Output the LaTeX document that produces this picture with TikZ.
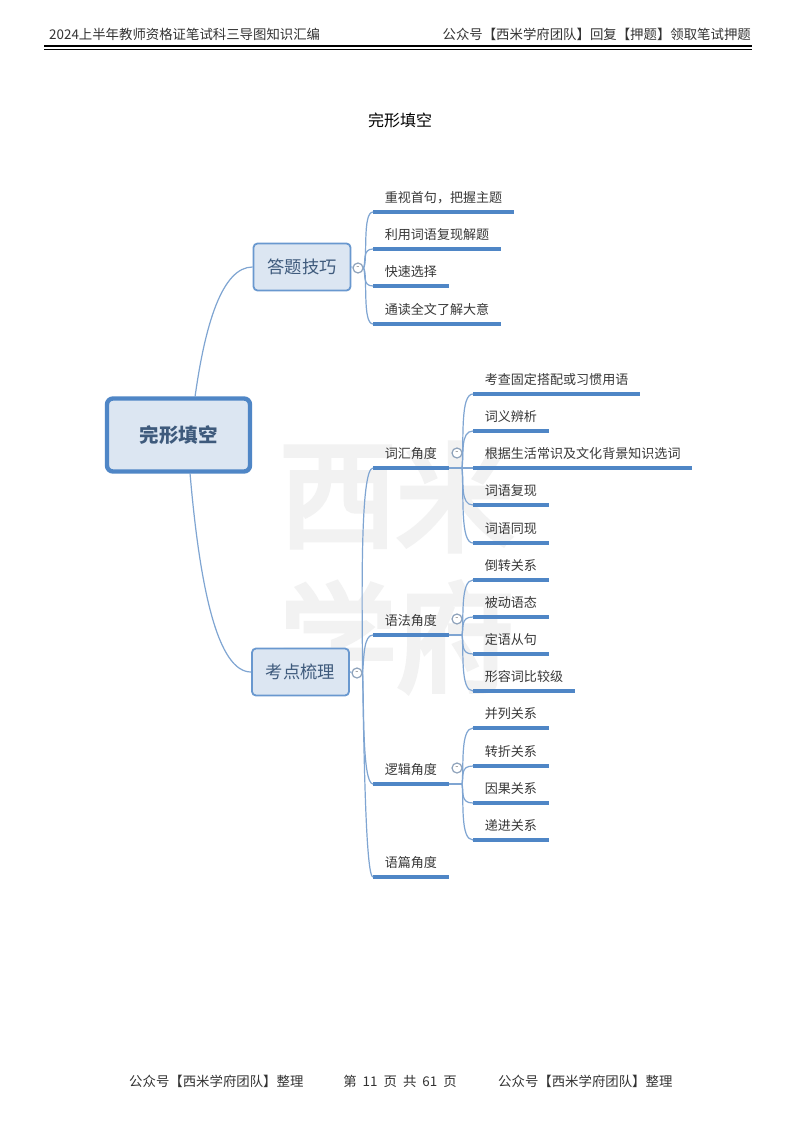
\documentclass[tikz,border=0pt]{standalone}
\usepackage{fontspec}
\setmainfont{Noto Sans CJK SC}
\newfontfamily\markfont[FakeBold=4]{Noto Sans CJK SC}
\usetikzlibrary{calc,positioning}
\definecolor{mapblue}{HTML}{4F86C6}
\definecolor{tieblue}{HTML}{7FA5D2}
\definecolor{mapfill}{HTML}{DCE6F2}
\definecolor{mapink}{HTML}{3E5A7C}
\definecolor{markgray}{HTML}{F2F2F2}
\tikzset{
  pagetext/.style={inner sep=0pt,font=\fontsize{13.4}{14}\selectfont,text=black!80},
  rootbox/.style={draw=mapblue,line width=4.4pt,fill=mapfill,rounded corners=6pt,
    minimum width=143pt,minimum height=73pt,inner sep=0pt,text=mapink,
    font=\fontsize{19.5}{20}\bfseries\selectfont},
  branchbox/.style={draw=mapblue!85,line width=1.8pt,fill=mapfill,rounded corners=4pt,
    minimum width=97pt,minimum height=47pt,inner sep=0pt,text=mapink,
    font=\fontsize{17.3}{18}\selectfont},
  topic/.style={anchor=south west,inner xsep=11.6pt,inner ysep=0pt,text height=12pt,text depth=9pt,
    text=black!78,font=\fontsize{13.05}{14}\selectfont,
    append after command={(\tikzlastnode.south west) edge[uline] (\tikzlastnode.south east)}},
  uline/.style={draw=mapblue,line width=3.4pt},
  tie/.style={draw=tieblue,line width=1.2pt},
  fold/.style={circle,draw=black!25!tieblue!70,fill=white,line width=1.2pt,minimum size=10pt,inner sep=0pt,
    text=black!55,font=\fontsize{9}{9}\selectfont},
  markchar/.style={inner sep=0pt,text=markgray,font=\fontsize{118}{118}\markfont}
}
\begin{document}
\begin{tikzpicture}[x=1pt,y=-1pt]
\useasboundingbox (0,0) rectangle (800,1131);
\fill[white] (0,0) rectangle (800,1131);

% watermark
\node[markchar] (markxi) at (338,497) {西};
\node[markchar] (markmi) at (455,497) {米};
\node[markchar] (markxue) at (338,637) {学};
\node[markchar] (markfu) at (455,637) {府};

% page head and foot
\node[pagetext,anchor=base west] (headleft) at (49,40) {2024上半年教师资格证笔试科三导图知识汇编};
\node[pagetext,anchor=base east] (headright) at (751,40) {公众号【西米学府团队】回复【押题】领取笔试押题};
\coordinate (rulea) at (44,46);
\coordinate (ruleb) at (752,46);
\coordinate (rulec) at (44,49.5);
\coordinate (ruled) at (752,49.5);
\draw[line width=2.8pt] (rulea) -- (ruleb);
\draw[line width=1pt] (rulec) -- (ruled);
\node[inner sep=0pt,font=\fontsize{16}{17}\selectfont] (title) at (400,120) {完形填空};
\node[pagetext,anchor=base west] (footleft) at (129,1086) {公众号【西米学府团队】整理};
\node[pagetext,anchor=base] (footmid) at (400,1086) {第\hspace*{6pt}11\hspace*{6pt}页\hspace*{6pt}共\hspace*{6pt}61\hspace*{6pt}页};
\node[pagetext,anchor=base west] (footright) at (498,1086) {公众号【西米学府团队】整理};

% the map
\node[rootbox] (root) at (178.5,435) {完形填空};
\node[branchbox] (skill) at (302,267) {答题技巧};
\node[branchbox] (point) at (300.5,672) {考点梳理};
\coordinate (roottop) at (195,397);
\coordinate (rootbot) at (190,473);
\draw[tie] (roottop) .. controls (205,325) and (222,267) .. (skill.west);
\draw[tie] (rootbot) .. controls (200,590) and (218,672) .. (point.west);

\node[fold] (skillfold) at (358,268) {-};
\node[fold] (pointfold) at (357,673) {-};
\draw[tie] (skill.east) -- (skillfold);
\draw[tie] (point.east) -- (pointfold);

\node[topic] (s1) at (373,212) {重视首句，把握主题};
\node[topic] (s2) at (373,249) {利用词语复现解题};
\node[topic] (s3) at (373,286) {快速选择};
\node[topic] (s4) at (373,324) {通读全文了解大意};

\draw[tie] (skillfold.east) .. controls (368,262) and (362,212) .. (s1.south west);
\draw[tie] (skillfold.east) .. controls (366,262) and (362,249) .. (s2.south west);
\draw[tie] (skillfold.east) .. controls (366,274) and (362,286) .. (s3.south west);
\draw[tie] (skillfold.east) .. controls (368,274) and (362,324) .. (s4.south west);

\node[topic] (vocab) at (373,468) {词汇角度};
\node[topic] (gram) at (373,635) {语法角度};
\node[topic] (logic) at (373,784) {逻辑角度};
\node[topic] (text) at (373,877) {语篇角度};

\draw[tie] (pointfold.east) .. controls (362,600) and (360,468) .. (vocab.south west);
\draw[tie] (pointfold.east) .. controls (364,655) and (364,635) .. (gram.south west);
\draw[tie] (pointfold.east) .. controls (364,700) and (362,784) .. (logic.south west);
\draw[tie] (pointfold.east) .. controls (364,760) and (366,877) .. (text.south west);

\node[fold] (vocabfold) at (457,453) {-};
\node[fold] (gramfold) at (457,619) {-};
\node[fold] (logicfold) at (457,768) {-};
\coordinate (vocabfork) at (462,468);
\coordinate (gramfork) at (462,635);
\coordinate (logicfork) at (462,784);
\draw[tie] (vocab.south east) -- (vocabfork);
\draw[tie] (gram.south east) -- (gramfork);
\draw[tie] (logic.south east) -- (logicfork);

\node[topic] (v1) at (473,394) {考查固定搭配或习惯用语};
\node[topic] (v2) at (473,431) {词义辨析};
\node[topic] (v3) at (473,468) {根据生活常识及文化背景知识选词};
\node[topic] (v4) at (473,505) {词语复现};
\node[topic] (v5) at (473,543) {词语同现};

\draw[tie] (vocabfork) .. controls (464,440) and (460,394) .. (v1.south west);
\draw[tie] (vocabfork) .. controls (464,455) and (460,431) .. (v2.south west);
\draw[tie] (vocabfork) -- (v3.south west);
\draw[tie] (vocabfork) .. controls (464,482) and (460,505) .. (v4.south west);
\draw[tie] (vocabfork) .. controls (464,496) and (460,543) .. (v5.south west);

\node[topic] (g1) at (473,580) {倒转关系};
\node[topic] (g2) at (473,617) {被动语态};
\node[topic] (g3) at (473,654) {定语从句};
\node[topic] (g4) at (473,691) {形容词比较级};

\draw[tie] (gramfork) .. controls (464,620) and (460,580) .. (g1.south west);
\draw[tie] (gramfork) .. controls (464,628) and (460,617) .. (g2.south west);
\draw[tie] (gramfork) .. controls (464,643) and (460,654) .. (g3.south west);
\draw[tie] (gramfork) .. controls (464,650) and (460,691) .. (g4.south west);

\node[topic] (l1) at (473,728) {并列关系};
\node[topic] (l2) at (473,766) {转折关系};
\node[topic] (l3) at (473,803) {因果关系};
\node[topic] (l4) at (473,840) {递进关系};

\draw[tie] (logicfork) .. controls (464,768) and (460,728) .. (l1.south west);
\draw[tie] (logicfork) .. controls (464,776) and (460,766) .. (l2.south west);
\draw[tie] (logicfork) .. controls (464,792) and (460,803) .. (l3.south west);
\draw[tie] (logicfork) .. controls (464,800) and (460,840) .. (l4.south west);
\end{tikzpicture}
\end{document}
